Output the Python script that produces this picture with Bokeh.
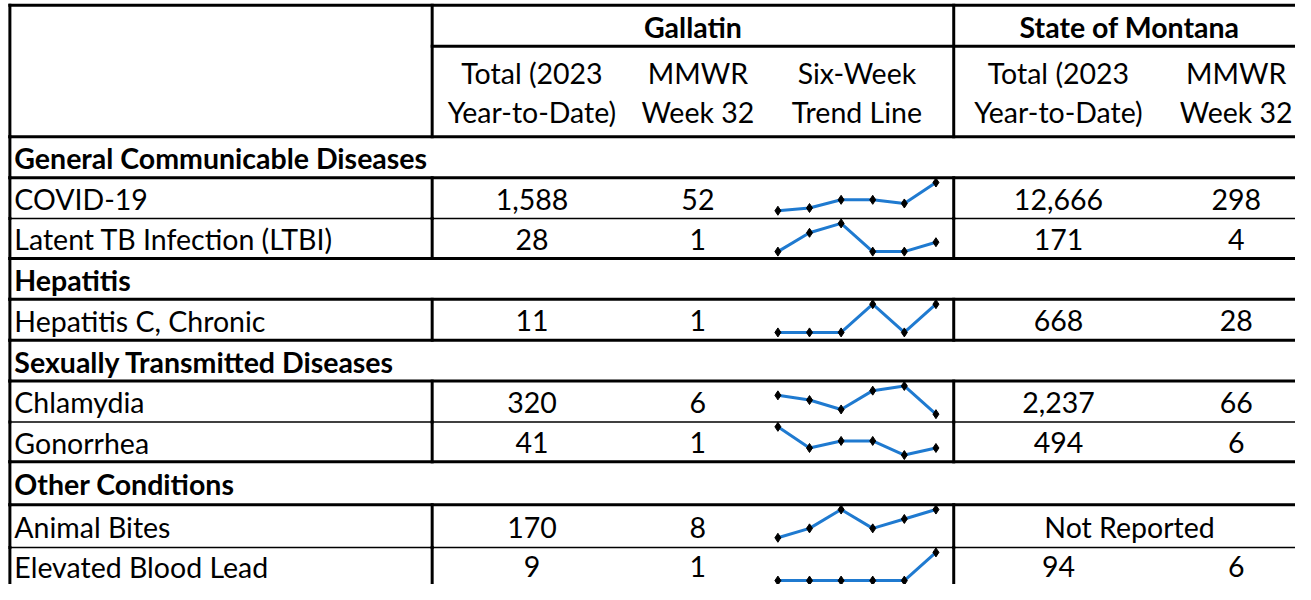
from bokeh.plotting import figure
from bokeh.models import Range1d
from bokeh.core.properties import value
from bokeh.embed import file_html
from bokeh.resources import INLINE

# ---------------- data ----------------
county_name = "Gallatin"
state_name = "State of Montana"
column_headers = [("Total (2023", "Year-to-Date)"), ("MMWR", "Week 32"),
                  ("Six-Week", "Trend Line"), ("Total (2023", "Year-to-Date)"),
                  ("MMWR", "Week 32")]
groups = ["General Communicable Diseases", "Hepatitis",
          "Sexually Transmitted Diseases", "Other Conditions"]
conditions = ["COVID-19", "Latent TB Infection (LTBI)", "Hepatitis C, Chronic",
              "Chlamydia", "Gonorrhea", "Animal Bites", "Elevated Blood Lead"]
condition_group = [0, 0, 1, 2, 2, 3, 3]
county_total = ["1,588", "28", "11", "320", "41", "170", "9"]
county_week = ["52", "1", "1", "6", "1", "8", "1"]
state_total = ["12,666", "171", "668", "2,237", "494", "Not Reported", "94"]
state_week = ["298", "4", "28", "66", "6", "", "6"]
six_week_trend = [
    [21, 24, 33, 33, 29, 52],
    [0, 2, 3, 0, 0, 1],
    [0, 0, 0, 1, 0, 1],
    [10, 9, 7, 11, 12, 6],
    [4, 1, 2, 2, 0, 1],
    [5, 6, 8, 6, 7, 8],
    [0, 0, 0, 0, 0, 1],
]

# ---------------- layout (reference pixel space) ----------------
ROW_EDGES = [5, 47, 140, 182, 224, 265, 307, 349, 391, 433, 474, 518, 562, 600]
X_LEFT, X_DIV1, X_DIV2, X_RIGHT = 9.5, 437, 965, 1330
COL_CENTERS = [538, 706, 867, 1071, 1251]
STATE_MERGED_CENTER = 1143
LABEL_X = 14
SPARK_X0, SPARK_STEP = 787, 32
SPARK_PAD, SPARK_SPAN = 5, 29
FONT = value("Lato")
FS = "28.5px"
THICK, THIN = 3, 1.5
SPARK_COLOR = "#1f7ad0"

p = figure(width=1295, height=584, x_range=Range1d(0, 1311), y_range=Range1d(600, 0),
           output_backend="svg", toolbar_location=None, min_border=0,
           x_axis_location=None, y_axis_location=None)
p.grid.visible = False
p.outline_line_color = None
p.background_fill_color = "white"

thick = dict(x0=[], y0=[], x1=[], y1=[])
thin = dict(x0=[], y0=[], x1=[], y1=[])


def seg(d, x0, y0, x1, y1):
    d["x0"].append(x0); d["y0"].append(y0); d["x1"].append(x1); d["y1"].append(y1)


def txt(x, y, s, align="center", bold=False):
    p.text(x=[x], y=[y], text=[s], text_align=align, text_baseline="middle",
           text_font=FONT, text_font_size=FS,
           text_font_style="bold" if bold else "normal", text_color="black")


# header
top, mid, hb = ROW_EDGES[0], ROW_EDGES[1], ROW_EDGES[2]
seg(thick, X_LEFT, top, X_RIGHT, top)
seg(thick, X_DIV1, mid, X_RIGHT, mid)
seg(thick, X_LEFT, hb, X_RIGHT, hb)
for x in (X_LEFT, X_DIV1, X_DIV2):
    seg(thick, x, top, x, hb)
txt((X_DIV1 + X_DIV2) / 2, (top + mid) / 2 + 1, county_name, bold=True)
txt(STATE_MERGED_CENTER, (top + mid) / 2 + 1, state_name, bold=True)
hc = (mid + hb) / 2
for cx, (l1, l2) in zip(COL_CENTERS, column_headers):
    txt(cx, hc - 19, l1)
    txt(cx, hc + 21, l2)

# body
row = 2
n_rows = len(ROW_EDGES) - 1
for g, gname in enumerate(groups):
    t, b = ROW_EDGES[row], ROW_EDGES[row + 1]
    seg(thick, X_LEFT, t, X_LEFT, b)
    seg(thick, X_LEFT, b, X_RIGHT, b)
    txt(LABEL_X, (t + b) / 2 + 1, gname, align="left", bold=True)
    row += 1
    idx = [i for i, cg in enumerate(condition_group) if cg == g]
    for n, i in enumerate(idx):
        t, b = ROW_EDGES[row], ROW_EDGES[row + 1]
        last_row = row == n_rows - 1
        for x in (X_LEFT, X_DIV1, X_DIV2):
            seg(thick, x, t, x, b + (6 if last_row else 0))
        if not last_row:
            seg(thick if n == len(idx) - 1 else thin, X_LEFT, b, X_RIGHT, b)
        cy = (t + b) / 2 + 1
        txt(LABEL_X, cy, conditions[i], align="left")
        txt(COL_CENTERS[0], cy, county_total[i])
        txt(COL_CENTERS[1], cy, county_week[i])
        if state_week[i] == "":
            txt(STATE_MERGED_CENTER, cy, state_total[i])
        else:
            txt(COL_CENTERS[3], cy, state_total[i])
            txt(COL_CENTERS[4], cy, state_week[i])
        vals = six_week_trend[i]
        lo, hi = min(vals), max(vals)
        xs = [SPARK_X0 + k * SPARK_STEP for k in range(len(vals))]
        ys = [t + SPARK_PAD + (1 - (v - lo) / (hi - lo)) * SPARK_SPAN for v in vals]
        p.line(xs, ys, line_color=SPARK_COLOR, line_width=3)
        p.scatter(xs, ys, marker="diamond", size=9, fill_color="black", line_color="black")
        row += 1

p.segment(x0="x0", y0="y0", x1="x1", y1="y1", source=thin, line_color="black",
          line_width=THIN)
p.segment(x0="x0", y0="y0", x1="x1", y1="y1", source=thick, line_color="black",
          line_width=THICK, line_cap="square")

open("out.html", "w").write(file_html(p, INLINE))
